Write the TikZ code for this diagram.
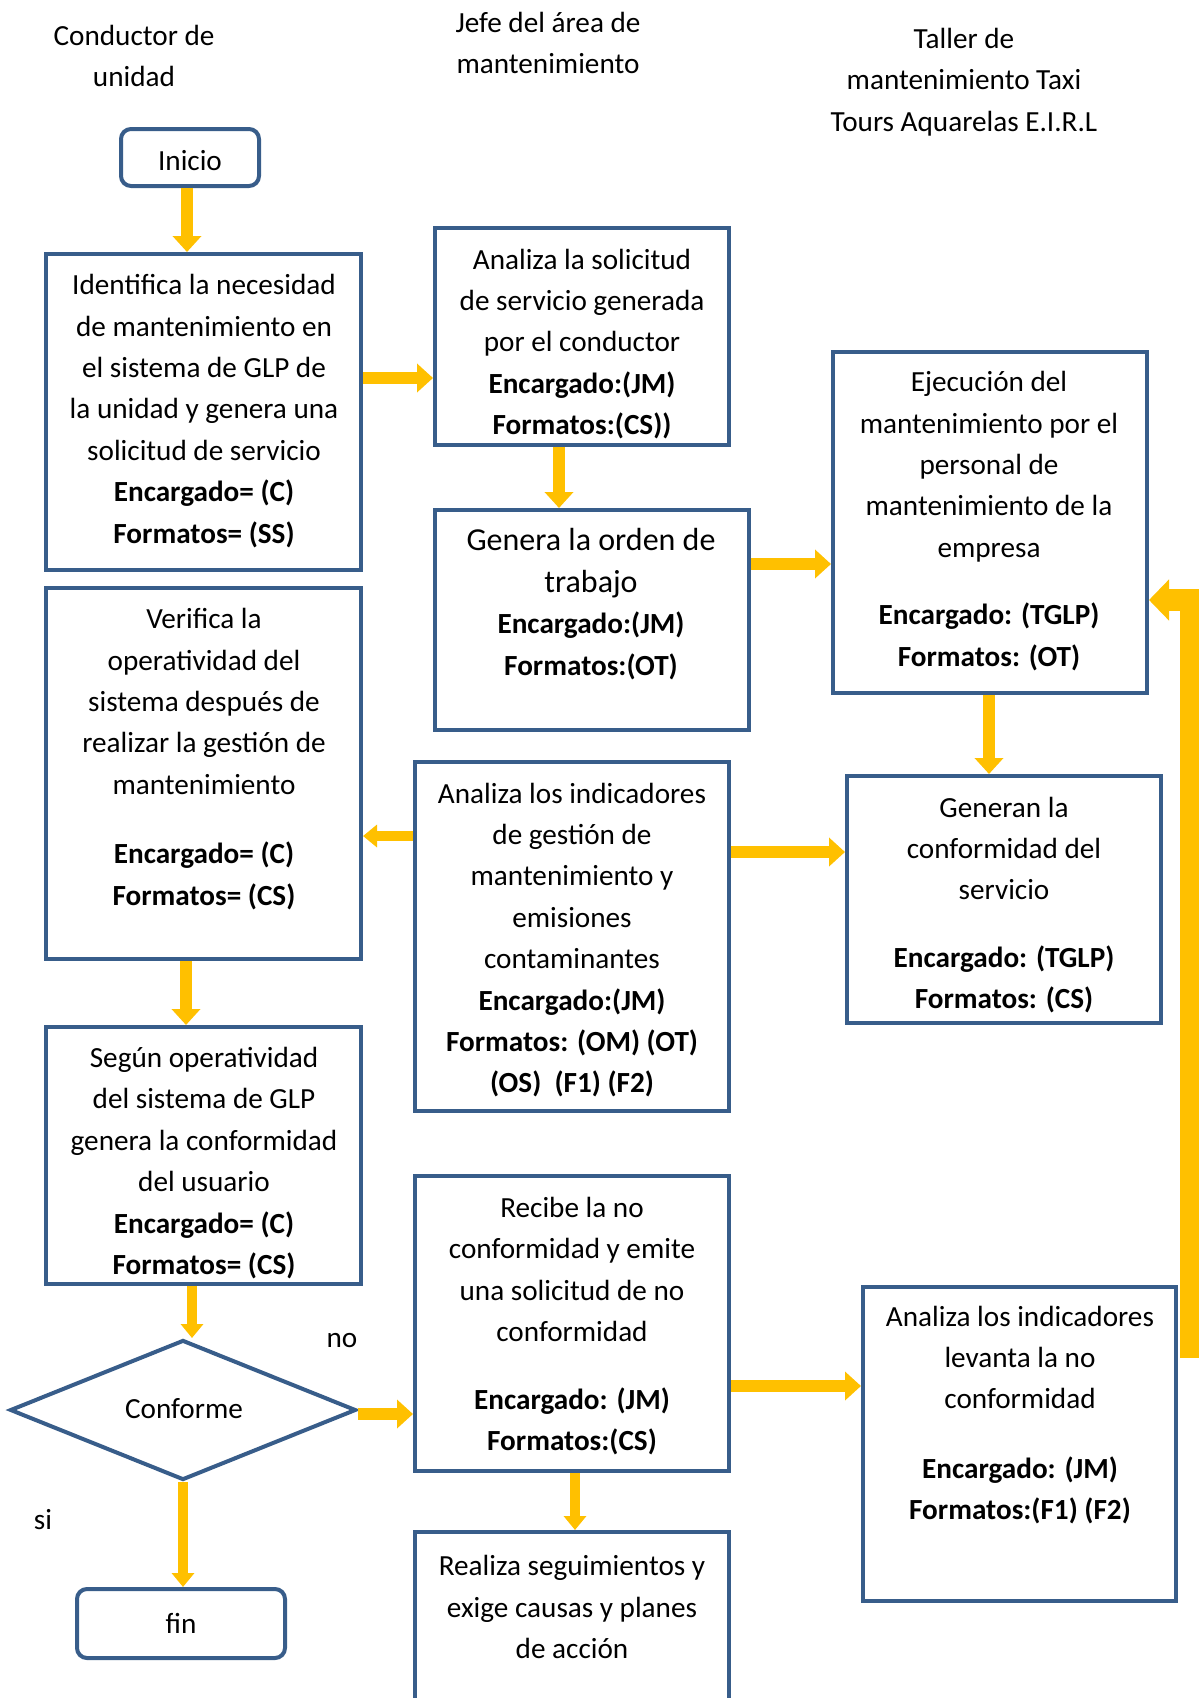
\documentclass[tikz,border=0pt]{standalone}
\usepackage{fontspec}
\setmainfont{Carlito}
\usetikzlibrary{arrows.meta,shapes.geometric}
\definecolor{bb}{RGB}{56,93,138}
\definecolor{ay}{RGB}{255,192,0}
\begin{document}
\begin{tikzpicture}[x=0.5pt,y=-0.5pt,
 box/.style={draw=bb,line width=2pt,rectangle,inner sep=0pt},
 term/.style={box,rounded corners=5pt},
 txt/.style={align=center,inner sep=0pt,font=\fontsize{14.6}{20.7}\selectfont},
 arr/.style={draw=ay,line width=6pt,-{Triangle[width=14pt,length=8pt]}},
 arrs/.style={draw=ay,line width=5pt,-{Triangle[width=11pt,length=7pt]}},
 arrbig/.style={draw=ay,line width=11pt,-{Triangle[width=20pt,length=10pt]}}]
\useasboundingbox (0,0) rectangle (1199,1698);

% headers
\node[txt] (h1) at (134,56) {Conductor de\\unidad};
\node[txt] (h2) at (548,43) {Jefe del área de\\mantenimiento};
\node[txt] (h3) at (964,82) {Taller de\\mantenimiento Taxi\\Tours Aquarelas E.I.R.L};

% boxes
\node[term,minimum width=69pt,minimum height=28.5pt] (ini) at (190,157.5) {};
\node[txt] (tini) at (190,161) {Inicio};
\node[box,minimum width=157.5pt,minimum height=158pt] (b1) at (203.5,412) {};
\node[box,minimum width=147pt,minimum height=108.5pt] (b2) at (582,336.5) {};
\node[box,minimum width=157pt,minimum height=110pt] (b3) at (592,620) {};
\node[box,minimum width=157pt,minimum height=170.5pt] (b4) at (990,522.5) {};
\node[box,minimum width=157.5pt,minimum height=185.5pt] (b5) at (203.5,773.5) {};
\node[box,minimum width=157pt,minimum height=174.5pt] (b6) at (572,936.5) {};
\node[box,minimum width=157pt,minimum height=123.5pt] (b7) at (1004,899.5) {};
\node[box,minimum width=157.5pt,minimum height=128.5pt] (b8) at (203.5,1155.5) {};
\node[box,minimum width=157pt,minimum height=147.5pt] (b9) at (572,1323.5) {};
\node[box,minimum width=156.5pt,minimum height=157pt] (b10) at (1019.5,1444) {};
\node[box,minimum width=157pt,minimum height=85pt] (b11) at (572,1617) {};
\node[draw=bb,line width=2pt,diamond,aspect=2.4,inner sep=0pt,minimum width=173pt,minimum height=70pt] (dia) at (183,1410) {};
\node[txt] (tdia) at (184,1409) {Conforme};
\node[term,minimum width=104pt,minimum height=34.5pt] (fin) at (181,1623.5) {};
\node[txt] (tfin) at (181,1623) {fin};

% texts
\node[txt] (t1) at (204,411) {Identifica la necesidad\\de mantenimiento en\\el sistema de GLP de\\la unidad y genera una\\solicitud de servicio\\\textbf{Encargado= (C)}\\\textbf{Formatos= (SS)}};
\node[txt] (t2) at (582,344) {Analiza la solicitud\\de servicio generada\\por el conductor\\\textbf{Encargado:(JM)}\\\textbf{Formatos:(CS))}};
\node[txt] (t3) at (591,604) {{\fontsize{16}{20.7}\selectfont Genera la orden de}\\{\fontsize{16}{20.7}\selectfont trabajo}\\\textbf{Encargado:(JM)}\\\textbf{Formatos:(OT)}};
\node[txt] (t4) at (989,521) {Ejecución del\\mantenimiento por el\\personal de\\mantenimiento de la\\empresa\\[13pt]\textbf{Encargado: (TGLP)}\\\textbf{Formatos: (OT)}};
\node[txt] (t5) at (204,759) {Verifica la\\operatividad del\\sistema después de\\realizar la gestión de\\mantenimiento\\[14pt]\textbf{Encargado= (C)}\\\textbf{Formatos= (CS)}};
\node[txt] (t6) at (572,940) {Analiza los indicadores\\de gestión de\\mantenimiento y\\emisiones\\contaminantes\\\textbf{Encargado:(JM)}\\\textbf{Formatos: (OM) (OT)}\\\textbf{(OS)\ \ (F1) (F2)}};
\node[txt] (t7) at (1004,905) {Generan la\\conformidad del\\servicio\\[13pt]\textbf{Encargado: (TGLP)}\\\textbf{Formatos: (CS)}};
\node[txt] (t8) at (204,1163) {Según operatividad\\del sistema de GLP\\genera la conformidad\\del usuario\\\textbf{Encargado= (C)}\\\textbf{Formatos= (CS)}};
\node[txt] (t9) at (572,1326) {Recibe la no\\conformidad y emite\\una solicitud de no\\conformidad\\[13pt]\textbf{Encargado: (JM)}\\\textbf{Formatos:(CS)}};
\node[txt] (t10) at (1020,1415) {Analiza los indicadores\\levanta la no\\conformidad\\[14pt]\textbf{Encargado: (JM)}\\\textbf{Formatos:(F1) (F2)}};
\node[txt] (t11) at (572,1607) {Realiza seguimientos y\\exige causas y planes\\de acción};

% labels
\node[txt] (lno) at (342,1341) {no};
\node[txt] (lsi) at (43,1520) {si};

% connectors
\draw[arr] (ini.south -| 187,0) -- (b1.north -| 187,0);
\draw[arr] (b1.east |- 0,378) -- (b2.west |- 0,378);
\draw[arr] (b2.south -| 559,0) -- (b3.north -| 559,0);
\draw[arr] (b3.east |- 0,564) -- (b4.west |- 0,564);
\draw[arr] (b4.south -| 989,0) -- (b7.north -| 989,0);
\draw[arrs] (b6.west |- 0,836) -- (b5.east |- 0,836);
\draw[arr] (b6.east |- 0,852) -- (b7.west |- 0,852);
\draw[arr] (b5.south -| 186,0) -- (b8.north -| 186,0);
\draw[arrs] (b8.south -| 192,0) -- (dia.north -| 192,0);
\draw[arr] (dia.east |- 0,1414) -- (b9.west |- 0,1414);
\draw[arrs] (dia.south) -- (fin.north -| dia.south);
\draw[arr] (b9.east |- 0,1386) -- (b10.west |- 0,1386);
\draw[arrs] (b9.south -| 575,0) -- (b11.north -| 575,0);
\coordinate (lps) at (1191,1358);
\draw[arrbig] (lps) |- (b4.east |- 0,600);
\end{tikzpicture}
\end{document}
